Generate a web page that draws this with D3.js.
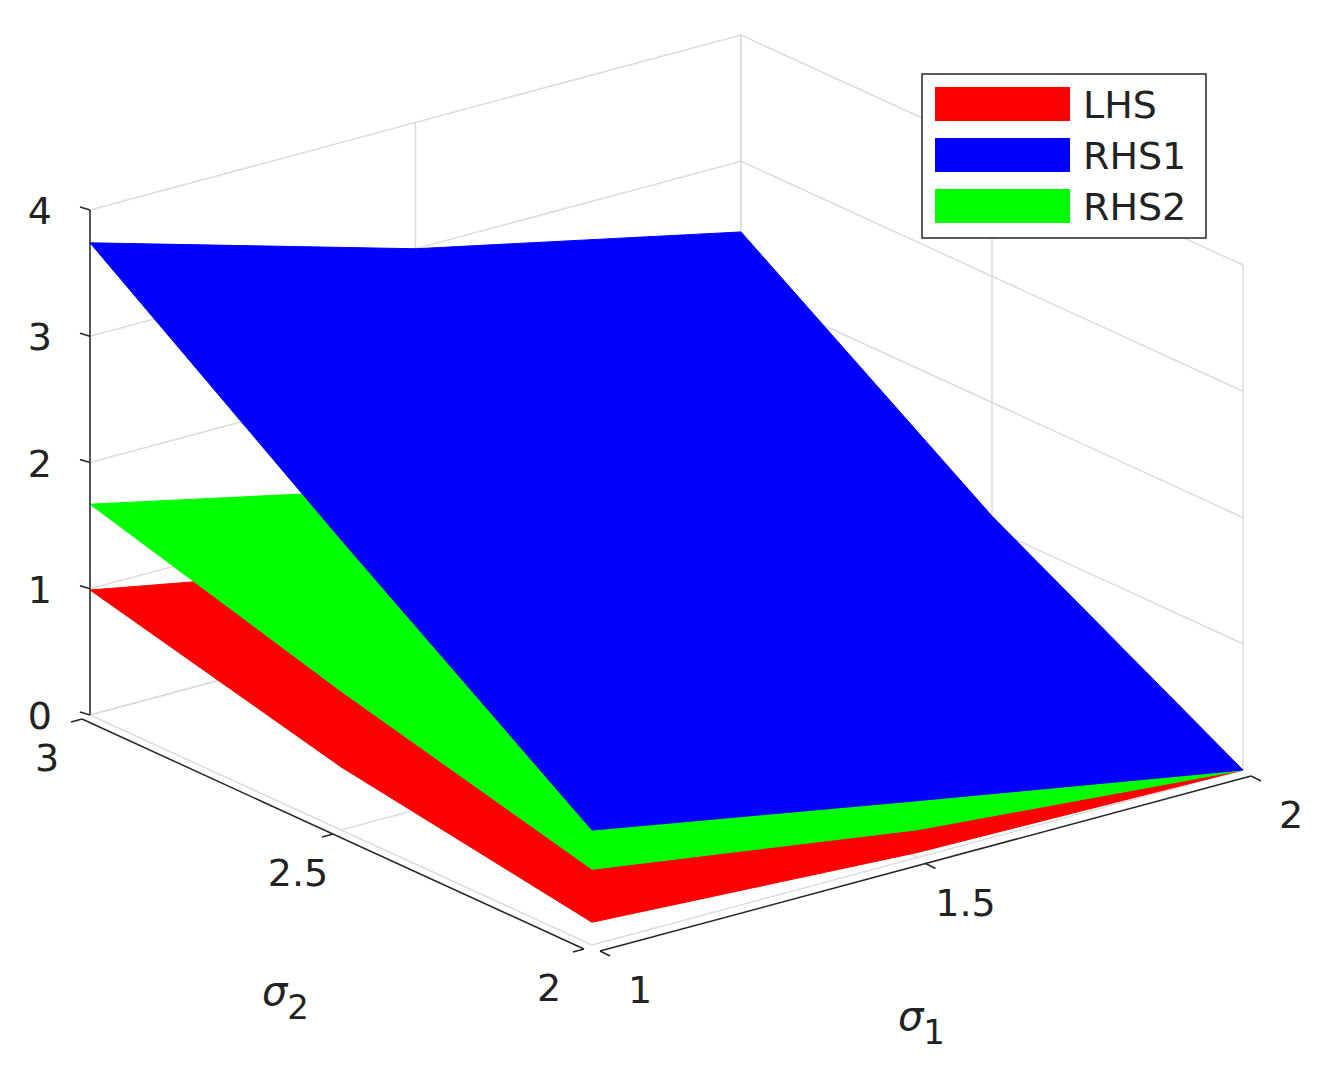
<!DOCTYPE html>
<html><head><meta charset="utf-8">
<script src="https://cdn.jsdelivr.net/npm/d3@7"></script>
<style>body{margin:0;background:#fff}text{font-family:"DejaVu Sans",sans-serif;fill:#222}</style>
</head><body><svg id="chart" width="1326" height="1083"></svg>
<script>
// Grid of read values: rows are sigma2, columns are sigma1
const sigma1 = [1, 1.5, 2];
const sigma2 = [2, 2.5, 3];
const lhs  = [[0.18, 0.04, 0], [0.5, 0.2, 0.05], [0.99, 0.5, 0.2]];
const rhs2 = [[0.6, 0.22, 0], [1.1, 0.6, 0.25], [1.67, 1.1, 0.6]];
const rhs1 = [[0.91, 0.45, 0], [2.3, 1.6, 1.1], [3.74, 3.0, 2.44]];
const zTicks = [0, 1, 2, 3, 4];
const s1Ticks = [1, 1.5, 2];
const s2Ticks = [2, 2.5, 3];
const series = [
  { name: 'LHS', values: lhs, color: '#ff0000' },
  { name: 'RHS2', values: rhs2, color: '#00ff00' },
  { name: 'RHS1', values: rhs1, color: '#0000ff' }
];
const legendOrder = ['LHS', 'RHS1', 'RHS2'];

const svg = d3.select('#chart');

// Oblique projection built from linear scales
const s1x = d3.scaleLinear().domain([1, 2]).range([0, 651]);
const s1y = d3.scaleLinear().domain([1, 2]).range([0, -175]);
const s2x = d3.scaleLinear().domain([2, 3]).range([0, -502]);
const s2y = d3.scaleLinear().domain([2, 3]).range([0, -230]);
const zy = d3.scaleLinear().domain([0, 4]).range([0, -505]);
const proj = (a, b, z) => [592 + s1x(a) + s2x(b), 945 + s1y(a) + s2y(b) + zy(z)];
const line = d3.line();

// Grid lines on back walls and floor
const grid = svg.append('g').attr('stroke', '#dcdcdc').attr('stroke-width', 1.5).attr('fill', 'none');
zTicks.forEach(z => {
  grid.append('path').attr('d', line([proj(1, 3, z), proj(2, 3, z), proj(2, 2, z)]));
});
s1Ticks.forEach(a => {
  grid.append('path').attr('d', line([proj(a, 2, 0), proj(a, 3, 0), proj(a, 3, 4)]));
});
s2Ticks.forEach(b => {
  grid.append('path').attr('d', line([proj(1, b, 0), proj(2, b, 0), proj(2, b, 4)]));
});

// Surfaces, drawn bottom to top
series.forEach(s => {
  const g = svg.append('g');
  for (let j = 0; j < sigma2.length - 1; j++) {
    for (let i = 0; i < sigma1.length - 1; i++) {
      const pts = [
        proj(sigma1[i], sigma2[j], s.values[j][i]),
        proj(sigma1[i + 1], sigma2[j], s.values[j][i + 1]),
        proj(sigma1[i + 1], sigma2[j + 1], s.values[j + 1][i + 1]),
        proj(sigma1[i], sigma2[j + 1], s.values[j + 1][i])
      ];
      g.append('path').attr('d', line(pts) + 'Z')
        .attr('fill', s.color).attr('stroke', s.color).attr('stroke-width', 1);
    }
  }
});

// Axes
const ax = svg.append('g').attr('stroke', '#262626').attr('stroke-width', 1.5).attr('fill', 'none');
ax.append('path').attr('d', line([proj(1, 3, 0), proj(1, 3, 4)]));
zTicks.forEach(z => {
  const p = proj(1, 3, z);
  ax.append('path').attr('d', line([p, [p[0] - 10, p[1] - 3]]));
  svg.append('text').attr('x', p[0] - 38).attr('y', p[1] + 14)
    .attr('text-anchor', 'end').attr('font-size', 38).text(z);
});
// sigma2 axis (along front-left edge, offset slightly)
const off2 = [-8, 4];
const sp = b => { const p = proj(1, b, 0); return [p[0] + off2[0], p[1] + off2[1]]; };
ax.append('path').attr('d', line([sp(2), sp(3)]));
s2Ticks.forEach(b => {
  const p = sp(b);
  ax.append('path').attr('d', line([p, [p[0] - 11, p[1] + 3]]));
  svg.append('text').attr('x', p[0] - 35).attr('y', p[1] + 52)
    .attr('text-anchor', 'middle').attr('font-size', 38).text(b);
});
// sigma1 axis
const off1 = [8, 6];
const sq = a => { const p = proj(a, 2, 0); return [p[0] + off1[0], p[1] + off1[1]]; };
ax.append('path').attr('d', line([sq(1), sq(2)]));
s1Ticks.forEach(a => {
  const p = sq(a);
  ax.append('path').attr('d', line([p, [p[0] + 10, p[1] + 5]]));
  svg.append('text').attr('x', p[0] + 40).attr('y', p[1] + 52)
    .attr('text-anchor', 'middle').attr('font-size', 38).text(a);
});
// Axis labels
const lab = (x, y, sub) => {
  const t = svg.append('text').attr('x', x).attr('y', y).attr('font-size', 40).attr('font-style', 'italic');
  t.append('tspan').text('σ');
  t.append('tspan').attr('dy', 14).attr('font-size', 34).attr('font-style', 'normal').text(sub);
};
lab(262, 1005, '2');
lab(898, 1030, '1');

// Legend
const lg = svg.append('g');
lg.append('rect').attr('x', 922).attr('y', 74).attr('width', 284).attr('height', 164)
  .attr('fill', '#fff').attr('stroke', '#262626').attr('stroke-width', 1.5);
legendOrder.forEach((n, k) => {
  const s = series.find(d => d.name === n);
  const y = 104 + k * 51;
  lg.append('rect').attr('x', 935).attr('y', y - 17).attr('width', 135).attr('height', 34).attr('fill', s.color);
  lg.append('text').attr('x', 1083).attr('y', y + 14).attr('font-size', 38).text(n);
});
</script></body></html>
